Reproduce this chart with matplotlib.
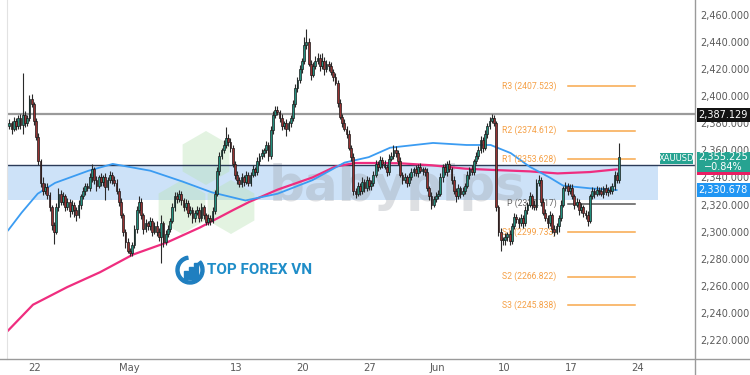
import numpy as np
import matplotlib
matplotlib.use("Agg")
import matplotlib.pyplot as plt
from matplotlib.patches import Rectangle, RegularPolygon, Wedge
from matplotlib.lines import Line2D
from matplotlib.transforms import IdentityTransform

# ---- data: XAUUSD 4h candles, one row per trading day (Apr 18 .. Jun 20) ----
first_open = 2378
closes = [
    [2380, 2376, 2382, 2378, 2384, 2379], [2386, 2380, 2384, 2398, 2394, 2382],
    [2370, 2352, 2336, 2330, 2333, 2327], [2318, 2305, 2300, 2318, 2328, 2322],
    [2326, 2318, 2322, 2315, 2320, 2316], [2312, 2320, 2326, 2330, 2334, 2332],
    [2340, 2346, 2338, 2334, 2340, 2337], [2340, 2333, 2338, 2342, 2338, 2336],
    [2330, 2322, 2312, 2300, 2292, 2286], [2284, 2290, 2302, 2316, 2322, 2312],
    [2302, 2306, 2304, 2308, 2300, 2304], [2300, 2296, 2306, 2292, 2298, 2302],
    [2308, 2318, 2326, 2324, 2328, 2323], [2318, 2321, 2314, 2316, 2310, 2314],
    [2316, 2310, 2318, 2312, 2307, 2310], [2308, 2315, 2328, 2345, 2356, 2360],
    [2364, 2369, 2366, 2362, 2350, 2342], [2338, 2335, 2340, 2337, 2342, 2336],
    [2342, 2346, 2344, 2352, 2356, 2358], [2360, 2364, 2356, 2375, 2386, 2390],
    [2388, 2384, 2378, 2380, 2376, 2380], [2384, 2394, 2406, 2412, 2420, 2426],
    [2438, 2440, 2424, 2416, 2422, 2426], [2428, 2422, 2426, 2420, 2424, 2422],
    [2418, 2414, 2410, 2395, 2385, 2380], [2376, 2372, 2362, 2355, 2330, 2328],
    [2334, 2330, 2337, 2332, 2338, 2334], [2336, 2342, 2350, 2348, 2353, 2350],
    [2348, 2344, 2354, 2356, 2360, 2358], [2352, 2342, 2338, 2340, 2336, 2340],
    [2344, 2346, 2343, 2348, 2345, 2346], [2344, 2332, 2326, 2320, 2324, 2326],
    [2328, 2340, 2348, 2344, 2350, 2346], [2338, 2330, 2326, 2332, 2328, 2330],
    [2334, 2342, 2346, 2344, 2352, 2356], [2360, 2368, 2362, 2372, 2378, 2382],
    [2384, 2380, 2318, 2300, 2294, 2294], [2296, 2298, 2293, 2304, 2311, 2309],
    [2306, 2310, 2306, 2316, 2320, 2326], [2320, 2318, 2336, 2338, 2322, 2314],
    [2310, 2306, 2312, 2302, 2300, 2304], [2310, 2320, 2332, 2334, 2330, 2332],
    [2326, 2320, 2322, 2316, 2318, 2314], [2312, 2308, 2326, 2330, 2328, 2331],
    [2330, 2328, 2332, 2329, 2331, 2330], [2334, 2342, 2338, 2355.2],
]
up_wick = [
    [3, 2, 3, 2, 2, 3], [31, 3, 2, 3, 4, 2], [2, 3, 2, 4, 3, 3], [2, 2, 2, 3, 4, 3],
    [3, 2, 3, 2, 3, 2], [2, 3, 2, 3, 2, 2], [3, 4, 2, 3, 2, 3], [2, 3, 2, 3, 2, 3],
    [3, 2, 3, 2, 2, 3], [2, 2, 3, 3, 4, 3], [2, 3, 2, 3, 2, 3], [4, 3, 6, 2, 3, 3],
    [2, 3, 3, 3, 3, 2], [2, 3, 2, 3, 2, 2], [3, 2, 3, 2, 2, 3], [2, 3, 3, 3, 3, 2],
    [4, 8, 3, 3, 2, 2], [3, 2, 3, 2, 3, 2], [2, 3, 2, 3, 2, 3], [2, 3, 2, 3, 3, 3],
    [3, 2, 3, 2, 3, 2], [2, 3, 3, 2, 3, 2], [6, 10, 3, 3, 3, 4], [4, 3, 6, 3, 3, 2],
    [3, 2, 3, 2, 3, 2], [3, 2, 3, 2, 3, 2], [3, 2, 3, 2, 3, 2], [2, 3, 3, 2, 3, 2],
    [3, 2, 3, 3, 4, 3], [2, 3, 2, 3, 2, 3], [3, 2, 3, 2, 3, 2], [2, 3, 2, 3, 2, 3],
    [3, 3, 2, 3, 2, 3], [2, 3, 2, 3, 2, 3], [2, 3, 2, 3, 2, 3], [3, 3, 2, 3, 2, 3],
    [3, 2, 2, 2, 3, 2], [3, 2, 3, 2, 3, 2], [2, 3, 2, 3, 2, 3], [2, 3, 3, 4, 2, 3],
    [3, 2, 3, 2, 3, 2], [2, 3, 2, 3, 2, 3], [3, 2, 3, 2, 3, 2], [2, 3, 2, 3, 2, 3],
    [2, 3, 2, 3, 2, 3], [2, 3, 2, 10],
]
down_wick = [
    [2, 4, 2, 3, 2, 3], [7, 3, 2, 2, 2, 3], [2, 3, 3, 3, 2, 3], [3, 4, 9, 2, 3, 2],
    [2, 3, 2, 4, 2, 5], [4, 2, 3, 2, 3, 2], [2, 3, 3, 4, 2, 3], [3, 10, 2, 2, 3, 2],
    [2, 3, 2, 3, 4, 2], [2, 2, 2, 3, 2, 3], [4, 2, 3, 3, 3, 2], [3, 3, 19, 3, 2, 2],
    [2, 2, 3, 3, 2, 3], [3, 2, 3, 2, 4, 3], [2, 3, 2, 3, 2, 2], [3, 2, 2, 2, 3, 2],
    [2, 2, 3, 3, 2, 3], [3, 2, 2, 3, 2, 2], [2, 2, 3, 2, 3, 2], [3, 2, 4, 2, 3, 2],
    [2, 3, 3, 2, 5, 2], [3, 2, 2, 3, 2, 3], [2, 3, 2, 4, 2, 2], [2, 3, 2, 4, 2, 3],
    [2, 3, 2, 3, 2, 3], [2, 3, 2, 3, 3, 3], [2, 3, 2, 3, 2, 3], [3, 2, 2, 3, 2, 3],
    [2, 3, 2, 2, 2, 3], [3, 2, 3, 2, 3, 2], [2, 3, 2, 3, 2, 3], [3, 2, 3, 3, 2, 2],
    [2, 2, 3, 2, 3, 2], [3, 2, 4, 2, 3, 2], [2, 2, 3, 2, 2, 2], [2, 2, 3, 2, 3, 2],
    [2, 2, 3, 3, 8, 4], [4, 3, 3, 2, 2, 3], [3, 2, 3, 2, 3, 2], [3, 2, 2, 2, 3, 2],
    [2, 3, 2, 3, 3, 2], [4, 2, 2, 2, 3, 2], [2, 3, 2, 4, 2, 3], [3, 4, 2, 2, 3, 2],
    [3, 2, 3, 2, 3, 2], [2, 3, 2, 2],
]

# moving averages (x in trading days from Apr 18)
blue_days = [0.0, 1.0, 2.2, 3.5, 6.0, 7.8, 10.6, 13.0, 15.2, 17.7, 20.1, 22.7, 25.1,
             26.9, 28.5, 31.7, 34.2, 36.0, 37.5, 38.9, 40.4, 41.4, 43.4, 45.4]
blue_vals = [2301, 2314, 2328, 2336, 2345, 2350, 2345, 2337, 2329, 2323, 2328, 2338,
             2351, 2355, 2362, 2365.5, 2364, 2364, 2358, 2348, 2340, 2334, 2332, 2330.7]
pink_days = [0.0, 1.85, 4.4, 6.85, 9.3, 11.85, 14.3, 16.8, 18.0, 20.1, 22.7, 24.4,
             25.9, 27.0, 29.2, 31.6, 34.1, 36.3, 38.9, 41.0, 43.4, 45.4]
pink_vals = [2227, 2246, 2259, 2270, 2283, 2292, 2303, 2316, 2322, 2331, 2340, 2348,
             2350.7, 2350.7, 2350.5, 2349, 2346.5, 2345.5, 2344.5, 2343, 2344, 2346]

pivot_names = ["R3", "R2", "R1", "P", "S1", "S2", "S3"]
pivot_vals = [2407.523, 2374.612, 2353.628, 2320.717, 2299.733, 2266.822, 2245.838]

tick_days = [2, 9, 17, 22, 27, 32, 37, 42, 47]
tick_labels = ["22", "May", "13", "20", "27", "Jun", "10", "17", "24"]

level_line = 2387.129
zone_low, zone_high = 2323.4, 2349.2
last_price, last_change = 2355.225, "\u22120.84%"
ma_last = 2330.678

# ---- build candles ----
c = np.concatenate([np.array(r, float) for r in closes])
uw = np.concatenate([np.array(r, float) for r in up_wick])
dw = np.concatenate([np.array(r, float) for r in down_wick])
o = np.concatenate([[first_open], c[:-1]])
hi = np.maximum(o, c) + uw
lo = np.minimum(o, c) - dw
x = np.concatenate([d + (np.arange(len(r)) + 0.5) / 6 for d, r in enumerate(closes)])

W, H = 750, 375
PX = IdentityTransform()

fig = plt.figure(figsize=(7.5, 3.75), dpi=100)
ax = fig.add_axes([7 / W, 16 / H, 688 / W, 359 / H])
ax.set_xlim(-0.09, 51.25)
ax.set_ylim(2205.9, 2471.1)

# zone + level lines
ax.fill_between([-1, 48.5], zone_low, zone_high, color="#cde2f8", zorder=0.5, lw=0)
ax.axhline(zone_high, color="#2b3b58", lw=1, zorder=1.5)
ax.axhline(level_line, color="#9a9a9a", lw=1.6, zorder=1.5)

# watermarks
for cx, cy in [(206, 158), (182, 207), (231, 207)]:
    ax.add_patch(RegularPolygon((cx, H - cy), 6, radius=27, transform=PX,
                                color="#b9e3b5", alpha=0.4, lw=0, zorder=1))
ax.text(397, H - 187, "babypips", transform=PX, ha="center", va="center",
        fontsize=36, fontweight="bold", color="#9aa0a8", alpha=0.33, zorder=1)
ax.add_patch(Wedge((190, H - 270), 14, 100, 400, width=3, transform=PX,
                   color="#1f7fc0", zorder=1))
for bx, bh in [(184, 8), (189, 12), (194, 16)]:
    ax.add_patch(Rectangle((bx, H - 279), 3.5, bh, transform=PX, color="#1f7fc0", zorder=1))
ax.text(207, H - 270, "TOP FOREX VN", transform=PX, ha="left", va="center",
        fontsize=11, fontweight="bold", family="Roboto", color="#1f8dc8", zorder=1)

# moving averages
ax.plot(pink_days, pink_vals, color="#ef2d7f", lw=1.6, zorder=2)
ax.plot(blue_days, blue_vals, color="#3b9cf2", lw=1.3, zorder=2)

# pivot levels
for name, val in zip(pivot_names, pivot_vals):
    col = "#595959" if name == "P" else "#f8a84c"
    ax.plot([41.8, 46.8], [val, val], color=col, lw=1.1, zorder=2)
    ax.text(40.9, val, f"{name} ({val:.3f})", ha="right", va="center", family="Roboto",
            fontsize=6.2, color="#666666" if name == "P" else "#f5a046", zorder=2.5)

# candles
up = c >= o
bw = 0.8 / 6
ax.vlines(x, lo, hi, color="#2a2a2a", lw=0.8, zorder=3)
body = np.where(np.abs(c - o) < 0.6, 0.6, c - o)
ax.bar(x[up], body[up], bottom=o[up], width=bw, color="#23907e",
       edgecolor="#1a1a1a", lw=0.5, zorder=3.5)
ax.bar(x[~up], body[~up], bottom=o[~up], width=bw, color="#983232",
       edgecolor="#1a1a1a", lw=0.5, zorder=3.5)

# axes styling
for s in ["top", "right", "bottom"]:
    ax.spines[s].set_visible(False)
ax.spines["left"].set_color("#e2e2e2")
ax.yaxis.tick_right()
ax.set_yticks(np.arange(2220, 2461, 20))
ax.set_yticklabels([f"{v:,.3f}" for v in np.arange(2220, 2461, 20)])
ax.tick_params(axis="y", length=0, pad=4, labelsize=7, labelcolor="#5a5a5a")
ax.set_xticks(tick_days)
ax.set_xticklabels(tick_labels)
ax.tick_params(axis="x", length=0, pad=3, labelsize=7.2, labelcolor="#5a5a5a")

fig.add_artist(Line2D([0, 1], [1 - 359 / H] * 2, color="#9a9a9a", lw=1))
fig.add_artist(Line2D([695 / W] * 2, [0, 1], color="#9a9a9a", lw=1))


def px_box(x0, y0, x1, y1, color, z=5):
    fig.add_artist(Rectangle((x0, H - y1), x1 - x0, y1 - y0, transform=PX,
                             color=color, lw=0, zorder=z))


def px_text(xc, yc, s, **kw):
    fig.text(xc, H - yc, s, transform=PX, ha="center", va="center", zorder=6, **kw)


# right-side price labels
px_box(697, 108, 750, 122, "#131313")
px_text(723, 115, f"{level_line:,.3f}", color="white", fontsize=7)
px_box(697, 172, 750, 175, "#e91e63")
px_box(697, 152, 750, 172, "#26a391")
px_text(723, 157, f"{last_price:,.3f}", color="white", fontsize=7)
px_text(723, 167, last_change, color="white", fontsize=7)
px_box(697, 183, 750, 197, "#2196f3")
px_text(723, 190, f"{ma_last:,.3f}", color="white", fontsize=7)
px_box(660, 153, 693, 164, "#26a391")
px_text(676.5, 158.5, "XAUUSD", color="white", fontsize=6)

fig.savefig("out.png", dpi=100)
